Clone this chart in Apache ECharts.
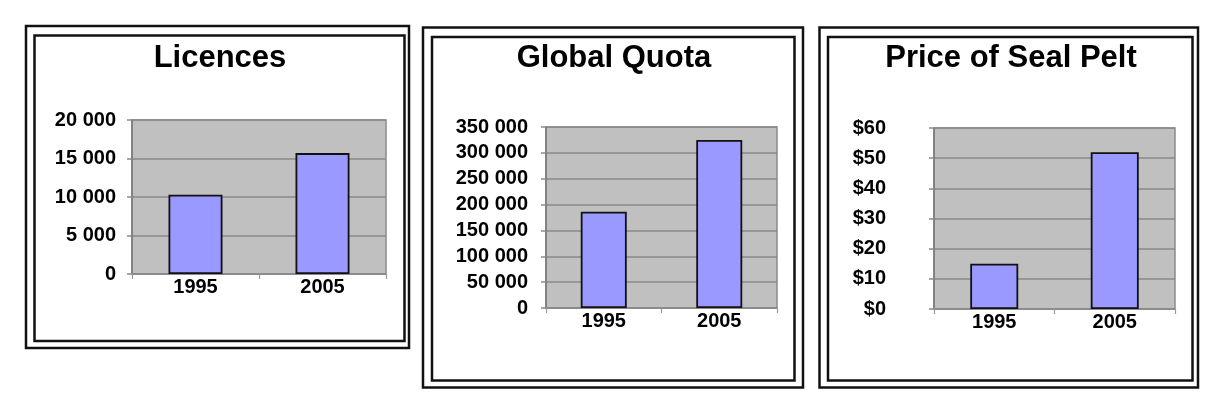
<!DOCTYPE html>
<html>
<head>
<meta charset="utf-8">
<script src="https://cdn.jsdelivr.net/npm/echarts@6/dist/echarts.min.js"></script>
<style>
html,body{margin:0;padding:0;background:#fff;}
#chart{width:1230px;height:418px;}
</style>
</head>
<body>
<div id="chart"></div>
<script>
// ---- data ----
const categories = ['1995', '2005'];
const titles = ['Licences', 'Global Quota', 'Price of Seal Pelt'];
const licences = [10300, 15700];
const globalQuota = [186000, 325000];
const peltPrice = [15, 52];
const axisMax = [20000, 350000, 60];
const axisStep = [5000, 50000, 10];

// ---- layout / style ----
const FONT = '"Liberation Sans", Arial, sans-serif';
const grids = [
  {left: 132, top: 120, width: 254, height: 154},
  {left: 546, top: 127, width: 231, height: 181},
  {left: 934, top: 128, width: 241, height: 181}
];
const titlePos = [{x: 220, y: 43}, {x: 614, y: 43}, {x: 1011, y: 43}];
const labelMargin = [16, 18, 48];
const barWidths = [54, 46, 48];
const frames = [
  {outer: [26, 26, 383, 322], inner: [34.5, 35.5, 370, 305.5]},
  {outer: [423, 27.5, 380, 360], inner: [432, 37, 362.5, 343.5]},
  {outer: [819.5, 27.5, 378.5, 360], inner: [828, 37, 364.5, 343.5]}
];
const seriesData = [licences, globalQuota, peltPrice];

function spaceThousands(v) {
  return String(v).replace(/\B(?=(\d{3})+(?!\d))/g, ' ');
}
const formatters = [spaceThousands, spaceThousands, v => '$' + v];

const chart = echarts.init(document.getElementById('chart'), null, {renderer: 'canvas'});

const graphic = [];
frames.forEach(f => {
  [f.outer, f.inner].forEach(r => {
    graphic.push({
      type: 'rect', silent: true,
      shape: {x: r[0], y: r[1], width: r[2], height: r[3]},
      style: {fill: 'none', stroke: '#111', lineWidth: 2.5}
    });
  });
});

const option = {
  backgroundColor: '#ffffff',
  animation: false,
  graphic: graphic,
  title: titles.map((t, i) => ({
    text: t,
    left: titlePos[i].x,
    top: titlePos[i].y,
    textAlign: 'center',
    padding: 0,
    textStyle: {fontFamily: FONT, fontWeight: 'bold', fontSize: 31, color: '#000'}
  })),
  grid: grids.map(g => Object.assign({
    show: true,
    backgroundColor: '#c0c0c0',
    borderColor: '#8a8a8a',
    borderWidth: 1.5,
    containLabel: false
  }, g)),
  xAxis: grids.map((g, i) => ({
    type: 'category',
    gridIndex: i,
    data: categories,
    boundaryGap: true,
    axisLine: {show: true, lineStyle: {color: '#8a8a8a', width: 1.5}},
    axisTick: {show: true, length: 5, lineStyle: {color: '#9a9a9a', width: 1.2}},
    axisLabel: {
      margin: 3,
      fontFamily: FONT, fontWeight: 'bold', fontSize: 20, color: '#000'
    },
    splitLine: {show: false}
  })),
  yAxis: grids.map((g, i) => ({
    type: 'value',
    gridIndex: i,
    min: 0,
    max: axisMax[i],
    interval: axisStep[i],
    axisLine: {show: true, lineStyle: {color: '#7a7a7a', width: 1.5}},
    axisTick: {show: true, length: 5, lineStyle: {color: '#8a8a8a', width: 1.5}},
    axisLabel: {
      margin: labelMargin[i],
      formatter: formatters[i],
      fontFamily: FONT, fontWeight: 'bold', fontSize: 20, color: '#000',
      verticalAlign: 'middle',
      padding: [0, 0, 10, 0]
    },
    splitLine: {show: true, lineStyle: {color: '#8a8a8a', width: 1.5}}
  })),
  series: seriesData.map((d, i) => ({
    type: 'bar',
    xAxisIndex: i,
    yAxisIndex: i,
    data: d,
    barWidth: barWidths[i],
    itemStyle: {color: '#9999ff', borderColor: '#111', borderWidth: 1.8}
  }))
};
chart.setOption(option);
</script>
</body>
</html>
